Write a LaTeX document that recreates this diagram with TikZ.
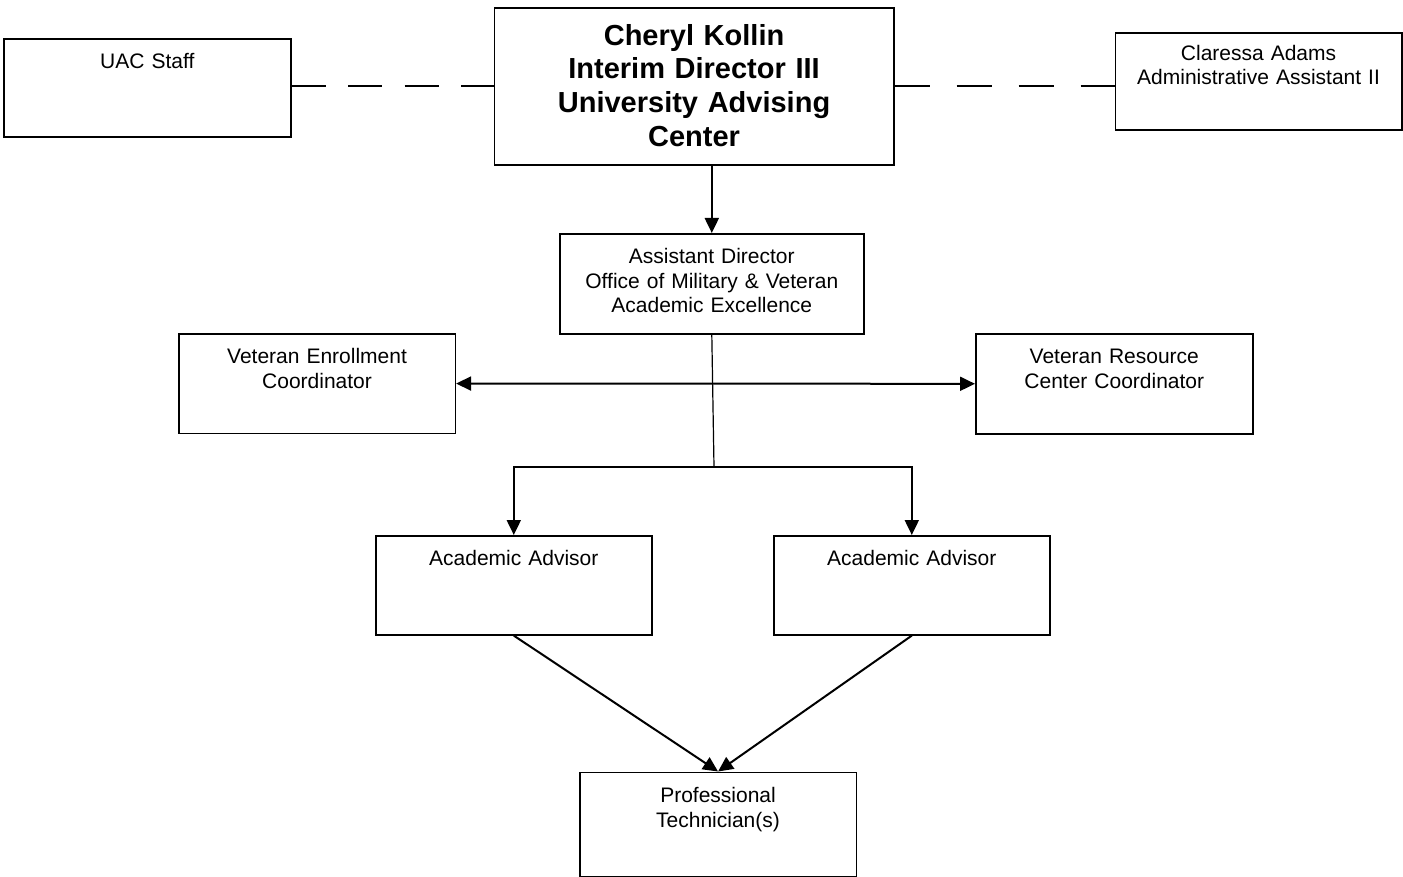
\documentclass[tikz,border=0pt]{standalone}
\usepackage{fontspec}
\setmainfont{Liberation Sans}
\usetikzlibrary{arrows.meta}
\begin{document}
\begin{tikzpicture}[x=1pt, y=-1pt, >={Triangle[length=15pt, width=14pt]},
      unit/.style={draw, line width=1.6pt, inner sep=0pt, anchor=north west, align=center,
         text width=276.5pt, text height=30pt, text depth=69.5pt,
         font=\fontsize{21pt}{24.4pt}\selectfont},
      arrowlink/.style={->, line width=2pt},
      thinlink/.style={line width=1.2pt},
      dashlink/.style={line width=1.6pt, dash pattern=#1}]
   \useasboundingbox (0, 0) rectangle (1403, 877);
   \node[unit, text width=287pt, text depth=68pt] (staff) at (3, 38) {UAC Staff};
   \node[unit, text width=399.5pt, text height=37.5pt, text depth=119.5pt,
      font=\fontsize{29pt}{33.7pt}\selectfont\bfseries] (director) at (493.5, 7)
      {Cheryl Kollin\\Interim Director III\\University Advising\\Center};
   \node[unit, text width=286.5pt, text height=27.5pt, text depth=69.5pt] (assistant) at (1114.5, 32)
      {Claressa Adams\\Administrative Assistant II};
   \node[unit, text width=304pt, text depth=70pt] (asstdir) at (559, 233)
      {Assistant Director\\Office of Military \& Veteran\\Academic Excellence};
   \node[unit] (enroll) at (178, 333) {Veteran Enrollment\\Coordinator};
   \node[unit, text width=277pt, text depth=70pt] (resource) at (975, 333) {Veteran Resource\\Center Coordinator};
   \node[unit, text width=276pt, text depth=69pt] (advisorA) at (375, 535) {Academic Advisor};
   \node[unit, text width=276pt, text depth=69pt] (advisorB) at (773, 535) {Academic Advisor};
   \node[unit, text height=30.5pt, text depth=74pt] (tech) at (579, 771.5) {Professional\\Technician(s)};
   \coordinate (split) at (714, 467);
   \draw[dashlink=on 34pt off 22.5pt] (staff.east |- director.west) -- (director.west);
   \draw[dashlink=on 35pt off 27pt] (director.east) -- (director.east -| assistant.west);
   \draw[arrowlink] (director.south -| asstdir.north) -- (asstdir.north);
   \draw[arrowlink, <->] (enroll.east) -- (resource.west);
   \draw[thinlink] (asstdir.south) -- (split);
   \draw[arrowlink] (split) -| (advisorA.north);
   \draw[arrowlink] (split) -| (advisorB.north);
   \draw[arrowlink] (advisorA.south) -- (tech.north);
   \draw[arrowlink] (advisorB.south) -- (tech.north);
\end{tikzpicture}
\end{document}
